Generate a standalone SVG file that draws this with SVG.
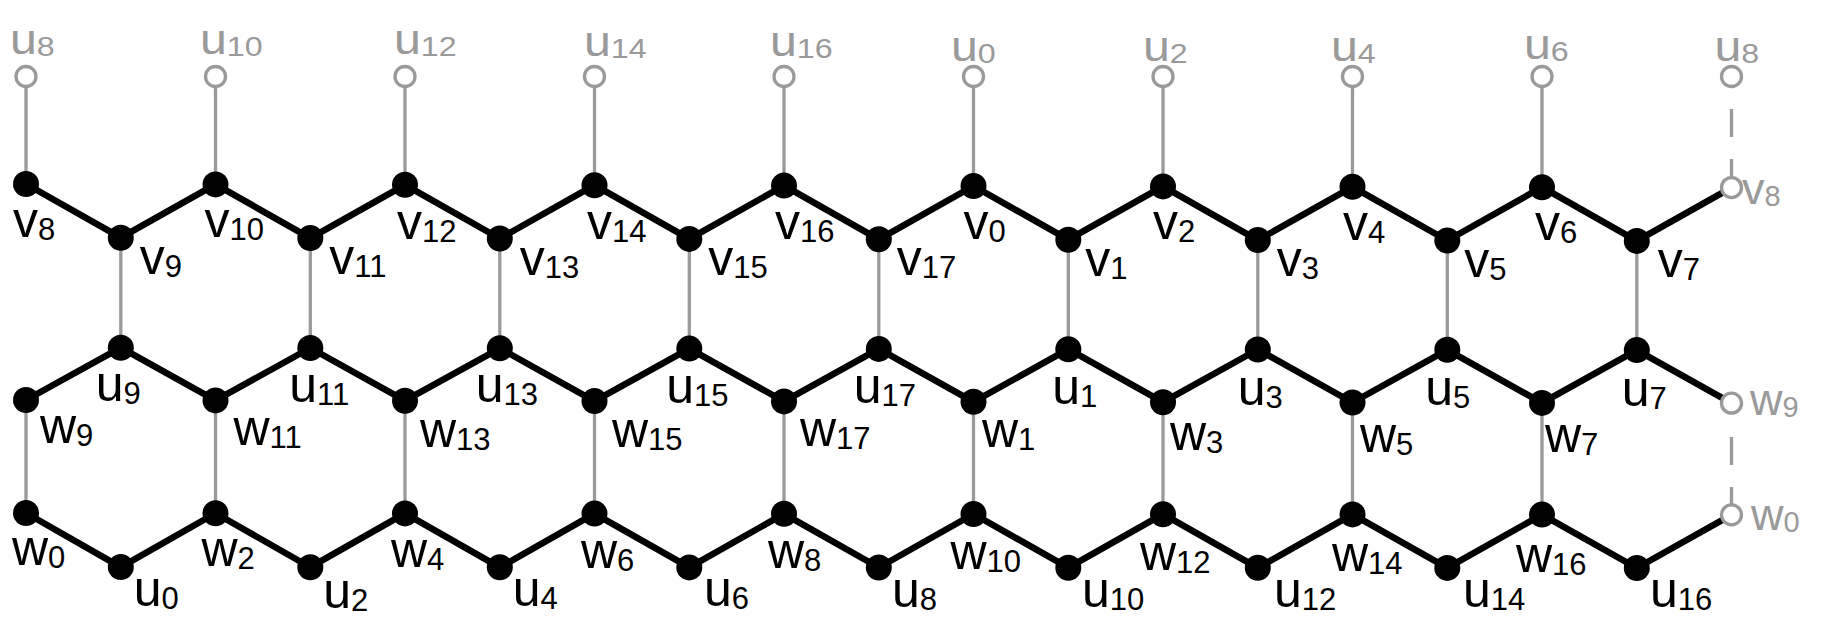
<svg xmlns="http://www.w3.org/2000/svg" width="1844" height="628" viewBox="0 0 1844 628">
<style>
.e{stroke:#000;stroke-width:6.5;stroke-linecap:butt;fill:none}
.g{stroke:#9a9a9a;stroke-width:3.3;fill:none}
.gd{stroke:#9a9a9a;stroke-width:3.3;fill:none;stroke-dasharray:28 22}
.n{fill:#000}
.o{fill:#fff;stroke:#9a9a9a;stroke-width:3.3}
.t{font-family:"Liberation Sans",Arial,sans-serif;font-size:50px;fill:#000}
.tg{font-family:"Liberation Sans",Arial,sans-serif;font-size:42px;fill:#9a9a9a}
.tr{font-family:"Liberation Sans",Arial,sans-serif;font-size:45px;fill:#9a9a9a}
.t .s{font-size:31px}
.tg .s{font-size:28px}
.tr .s{font-size:29px}
</style>
<rect width="1844" height="628" fill="#fff"/>
<g id="connectors">
<g id="gray-edges">
<line class="g" x1="26" y1="76.5" x2="26" y2="184"/>
<line class="g" x1="215.5" y1="76.5" x2="215.5" y2="184.4"/>
<line class="g" x1="405" y1="76.5" x2="405" y2="184.8"/>
<line class="g" x1="594.5" y1="76.5" x2="594.5" y2="185.2"/>
<line class="g" x1="784" y1="76.5" x2="784" y2="185.6"/>
<line class="g" x1="973.5" y1="76.5" x2="973.5" y2="186"/>
<line class="g" x1="1163" y1="76.5" x2="1163" y2="186.4"/>
<line class="g" x1="1352.5" y1="76.5" x2="1352.5" y2="186.8"/>
<line class="g" x1="1542" y1="76.5" x2="1542" y2="187.2"/>
<line class="gd" x1="1731.5" y1="109" x2="1731.5" y2="187.6"/>
<line class="g" x1="120.8" y1="237.7" x2="120.8" y2="347.7"/>
<line class="g" x1="310.3" y1="238.1" x2="310.3" y2="348"/>
<line class="g" x1="499.8" y1="238.5" x2="499.8" y2="348.3"/>
<line class="g" x1="689.3" y1="238.9" x2="689.3" y2="348.6"/>
<line class="g" x1="878.8" y1="239.3" x2="878.8" y2="348.9"/>
<line class="g" x1="1068.3" y1="239.7" x2="1068.3" y2="349.2"/>
<line class="g" x1="1257.8" y1="240.1" x2="1257.8" y2="349.5"/>
<line class="g" x1="1447.3" y1="240.5" x2="1447.3" y2="349.8"/>
<line class="g" x1="1636.8" y1="240.9" x2="1636.8" y2="350.1"/>
<line class="g" x1="26" y1="400" x2="26" y2="513"/>
<line class="g" x1="215.5" y1="400.4" x2="215.5" y2="513.2"/>
<line class="g" x1="405" y1="400.7" x2="405" y2="513.4"/>
<line class="g" x1="594.5" y1="401.1" x2="594.5" y2="513.6"/>
<line class="g" x1="784" y1="401.4" x2="784" y2="513.8"/>
<line class="g" x1="973.5" y1="401.8" x2="973.5" y2="514"/>
<line class="g" x1="1163" y1="402.2" x2="1163" y2="514.2"/>
<line class="g" x1="1352.5" y1="402.5" x2="1352.5" y2="514.4"/>
<line class="g" x1="1542" y1="402.9" x2="1542" y2="514.6"/>
<line class="gd" x1="1731.5" y1="437" x2="1731.5" y2="514.8"/>
</g>
<g id="black-edges">
<line class="e" x1="26" y1="184" x2="120.8" y2="237.7"/>
<line class="e" x1="120.8" y1="237.7" x2="215.5" y2="184.4"/>
<line class="e" x1="215.5" y1="184.4" x2="310.3" y2="238.1"/>
<line class="e" x1="310.3" y1="238.1" x2="405" y2="184.8"/>
<line class="e" x1="405" y1="184.8" x2="499.8" y2="238.5"/>
<line class="e" x1="499.8" y1="238.5" x2="594.5" y2="185.2"/>
<line class="e" x1="594.5" y1="185.2" x2="689.3" y2="238.9"/>
<line class="e" x1="689.3" y1="238.9" x2="784" y2="185.6"/>
<line class="e" x1="784" y1="185.6" x2="878.8" y2="239.3"/>
<line class="e" x1="878.8" y1="239.3" x2="973.5" y2="186"/>
<line class="e" x1="973.5" y1="186" x2="1068.3" y2="239.7"/>
<line class="e" x1="1068.3" y1="239.7" x2="1163" y2="186.4"/>
<line class="e" x1="1163" y1="186.4" x2="1257.8" y2="240.1"/>
<line class="e" x1="1257.8" y1="240.1" x2="1352.5" y2="186.8"/>
<line class="e" x1="1352.5" y1="186.8" x2="1447.3" y2="240.5"/>
<line class="e" x1="1447.3" y1="240.5" x2="1542" y2="187.2"/>
<line class="e" x1="1542" y1="187.2" x2="1636.8" y2="240.9"/>
<line class="e" x1="1636.8" y1="240.9" x2="1731.5" y2="187.6"/>
<line class="e" x1="26" y1="400" x2="120.8" y2="347.7"/>
<line class="e" x1="120.8" y1="347.7" x2="215.5" y2="400.4"/>
<line class="e" x1="215.5" y1="400.4" x2="310.3" y2="348"/>
<line class="e" x1="310.3" y1="348" x2="405" y2="400.7"/>
<line class="e" x1="405" y1="400.7" x2="499.8" y2="348.3"/>
<line class="e" x1="499.8" y1="348.3" x2="594.5" y2="401.1"/>
<line class="e" x1="594.5" y1="401.1" x2="689.3" y2="348.6"/>
<line class="e" x1="689.3" y1="348.6" x2="784" y2="401.4"/>
<line class="e" x1="784" y1="401.4" x2="878.8" y2="348.9"/>
<line class="e" x1="878.8" y1="348.9" x2="973.5" y2="401.8"/>
<line class="e" x1="973.5" y1="401.8" x2="1068.3" y2="349.2"/>
<line class="e" x1="1068.3" y1="349.2" x2="1163" y2="402.2"/>
<line class="e" x1="1163" y1="402.2" x2="1257.8" y2="349.5"/>
<line class="e" x1="1257.8" y1="349.5" x2="1352.5" y2="402.5"/>
<line class="e" x1="1352.5" y1="402.5" x2="1447.3" y2="349.8"/>
<line class="e" x1="1447.3" y1="349.8" x2="1542" y2="402.9"/>
<line class="e" x1="1542" y1="402.9" x2="1636.8" y2="350.1"/>
<line class="e" x1="1636.8" y1="350.1" x2="1731.5" y2="403.2"/>
<line class="e" x1="26" y1="513" x2="120.8" y2="567.1"/>
<line class="e" x1="120.8" y1="567.1" x2="215.5" y2="513.2"/>
<line class="e" x1="215.5" y1="513.2" x2="310.3" y2="567.2"/>
<line class="e" x1="310.3" y1="567.2" x2="405" y2="513.4"/>
<line class="e" x1="405" y1="513.4" x2="499.8" y2="567.3"/>
<line class="e" x1="499.8" y1="567.3" x2="594.5" y2="513.6"/>
<line class="e" x1="594.5" y1="513.6" x2="689.3" y2="567.4"/>
<line class="e" x1="689.3" y1="567.4" x2="784" y2="513.8"/>
<line class="e" x1="784" y1="513.8" x2="878.8" y2="567.5"/>
<line class="e" x1="878.8" y1="567.5" x2="973.5" y2="514"/>
<line class="e" x1="973.5" y1="514" x2="1068.3" y2="567.7"/>
<line class="e" x1="1068.3" y1="567.7" x2="1163" y2="514.2"/>
<line class="e" x1="1163" y1="514.2" x2="1257.8" y2="567.8"/>
<line class="e" x1="1257.8" y1="567.8" x2="1352.5" y2="514.4"/>
<line class="e" x1="1352.5" y1="514.4" x2="1447.3" y2="567.9"/>
<line class="e" x1="1447.3" y1="567.9" x2="1542" y2="514.6"/>
<line class="e" x1="1542" y1="514.6" x2="1636.8" y2="568"/>
<line class="e" x1="1636.8" y1="568" x2="1731.5" y2="514.8"/>
</g>
</g>
<g id="nodes-top-u">
<g id="tu8a"><circle class="o" cx="26" cy="76.5" r="10"/><text class="tg" transform="translate(10,54) scale(1.15,1)">u<tspan class="s" dy="2">8</tspan></text></g>
<g id="tu10"><circle class="o" cx="215.5" cy="76.5" r="10"/><text class="tg" transform="translate(200,54) scale(1.15,1)">u<tspan class="s" dy="2">10</tspan></text></g>
<g id="tu12"><circle class="o" cx="405" cy="76.5" r="10"/><text class="tg" transform="translate(394,54) scale(1.15,1)">u<tspan class="s" dy="2">12</tspan></text></g>
<g id="tu14"><circle class="o" cx="594.5" cy="76.5" r="10"/><text class="tg" transform="translate(584,56) scale(1.15,1)">u<tspan class="s" dy="2">14</tspan></text></g>
<g id="tu16"><circle class="o" cx="784" cy="76.5" r="10"/><text class="tg" transform="translate(770,56) scale(1.15,1)">u<tspan class="s" dy="2">16</tspan></text></g>
<g id="tu0"><circle class="o" cx="973.5" cy="76.5" r="10"/><text class="tg" transform="translate(951,61) scale(1.15,1)">u<tspan class="s" dy="2">0</tspan></text></g>
<g id="tu2"><circle class="o" cx="1163" cy="76.5" r="10"/><text class="tg" transform="translate(1143,61) scale(1.15,1)">u<tspan class="s" dy="2">2</tspan></text></g>
<g id="tu4"><circle class="o" cx="1352.5" cy="76.5" r="10"/><text class="tg" transform="translate(1331,61) scale(1.15,1)">u<tspan class="s" dy="2">4</tspan></text></g>
<g id="tu6"><circle class="o" cx="1542" cy="76.5" r="10"/><text class="tg" transform="translate(1524,59) scale(1.15,1)">u<tspan class="s" dy="2">6</tspan></text></g>
<g id="tu8b"><circle class="o" cx="1731.5" cy="76.5" r="10"/><text class="tg" transform="translate(1714.5,61) scale(1.15,1)">u<tspan class="s" dy="2">8</tspan></text></g>
</g>
<g id="nodes-v">
<g id="v8a"><circle class="n" cx="26" cy="184" r="13"/><text class="t" x="13" y="237">v<tspan class="s" dy="3">8</tspan></text></g>
<g id="v9"><circle class="n" cx="120.8" cy="237.7" r="13"/><text class="t" x="139.8" y="273.7">v<tspan class="s" dy="3">9</tspan></text></g>
<g id="v10"><circle class="n" cx="215.5" cy="184.4" r="13"/><text class="t" x="204.5" y="237.4">v<tspan class="s" dy="3">10</tspan></text></g>
<g id="v11"><circle class="n" cx="310.3" cy="238.1" r="13"/><text class="t" x="329.3" y="274.1">v<tspan class="s" dy="3">11</tspan></text></g>
<g id="v12"><circle class="n" cx="405" cy="184.8" r="13"/><text class="t" x="397" y="238.5">v<tspan class="s" dy="3">12</tspan></text></g>
<g id="v13"><circle class="n" cx="499.8" cy="238.5" r="13"/><text class="t" x="519.8" y="274.5">v<tspan class="s" dy="3">13</tspan></text></g>
<g id="v14"><circle class="n" cx="594.5" cy="185.2" r="13"/><text class="t" x="587" y="239">v<tspan class="s" dy="3">14</tspan></text></g>
<g id="v15"><circle class="n" cx="689.3" cy="238.9" r="13"/><text class="t" x="708.3" y="274.9">v<tspan class="s" dy="3">15</tspan></text></g>
<g id="v16"><circle class="n" cx="784" cy="185.6" r="13"/><text class="t" x="775" y="238.6">v<tspan class="s" dy="3">16</tspan></text></g>
<g id="v17"><circle class="n" cx="878.8" cy="239.3" r="13"/><text class="t" x="896.8" y="275.3">v<tspan class="s" dy="3">17</tspan></text></g>
<g id="v0"><circle class="n" cx="973.5" cy="186" r="13"/><text class="t" x="963.5" y="239">v<tspan class="s" dy="3">0</tspan></text></g>
<g id="v1"><circle class="n" cx="1068.3" cy="239.7" r="13"/><text class="t" x="1085.3" y="275.7">v<tspan class="s" dy="3">1</tspan></text></g>
<g id="v2"><circle class="n" cx="1163" cy="186.4" r="13"/><text class="t" x="1153" y="239.4">v<tspan class="s" dy="3">2</tspan></text></g>
<g id="v3"><circle class="n" cx="1257.8" cy="240.1" r="13"/><text class="t" x="1276.8" y="276.1">v<tspan class="s" dy="3">3</tspan></text></g>
<g id="v4"><circle class="n" cx="1352.5" cy="186.8" r="13"/><text class="t" x="1343" y="239.8">v<tspan class="s" dy="3">4</tspan></text></g>
<g id="v5"><circle class="n" cx="1447.3" cy="240.5" r="13"/><text class="t" x="1464.3" y="276.5">v<tspan class="s" dy="3">5</tspan></text></g>
<g id="v6"><circle class="n" cx="1542" cy="187.2" r="13"/><text class="t" x="1535" y="240.2">v<tspan class="s" dy="3">6</tspan></text></g>
<g id="v7"><circle class="n" cx="1636.8" cy="240.9" r="13"/><text class="t" x="1657.8" y="276.9">v<tspan class="s" dy="3">7</tspan></text></g>
<g id="v8b"><circle class="o" cx="1731.5" cy="187.6" r="10"/><text class="tr" x="1742" y="204">v<tspan class="s" dy="2">8</tspan></text></g>
</g>
<g id="nodes-middle">
<g id="w9a"><circle class="n" cx="26" cy="400" r="13"/><text class="t" x="40" y="443">w<tspan class="s" dy="3">9</tspan></text></g>
<g id="u9"><circle class="n" cx="120.8" cy="347.7" r="13"/><text class="t" x="95.8" y="400.9">u<tspan class="s" dy="3">9</tspan></text></g>
<g id="w11"><circle class="n" cx="215.5" cy="400.4" r="13"/><text class="t" x="233.5" y="445">w<tspan class="s" dy="3">11</tspan></text></g>
<g id="u11"><circle class="n" cx="310.3" cy="348" r="13"/><text class="t" x="289.3" y="401.5">u<tspan class="s" dy="3">11</tspan></text></g>
<g id="w13"><circle class="n" cx="405" cy="400.7" r="13"/><text class="t" x="420" y="447">w<tspan class="s" dy="3">13</tspan></text></g>
<g id="u13"><circle class="n" cx="499.8" cy="348.3" r="13"/><text class="t" x="475.8" y="402">u<tspan class="s" dy="3">13</tspan></text></g>
<g id="w15"><circle class="n" cx="594.5" cy="401.1" r="13"/><text class="t" x="612" y="447">w<tspan class="s" dy="3">15</tspan></text></g>
<g id="u15"><circle class="n" cx="689.3" cy="348.6" r="13"/><text class="t" x="666.3" y="402.7">u<tspan class="s" dy="3">15</tspan></text></g>
<g id="w17"><circle class="n" cx="784" cy="401.4" r="13"/><text class="t" x="800" y="446">w<tspan class="s" dy="3">17</tspan></text></g>
<g id="u17"><circle class="n" cx="878.8" cy="348.9" r="13"/><text class="t" x="853.8" y="403.3">u<tspan class="s" dy="3">17</tspan></text></g>
<g id="w1"><circle class="n" cx="973.5" cy="401.8" r="13"/><text class="t" x="982" y="447">w<tspan class="s" dy="3">1</tspan></text></g>
<g id="u1"><circle class="n" cx="1068.3" cy="349.2" r="13"/><text class="t" x="1052.3" y="403.9">u<tspan class="s" dy="3">1</tspan></text></g>
<g id="w3"><circle class="n" cx="1163" cy="402.2" r="13"/><text class="t" x="1170" y="450">w<tspan class="s" dy="3">3</tspan></text></g>
<g id="u3"><circle class="n" cx="1257.8" cy="349.5" r="13"/><text class="t" x="1237.8" y="404.5">u<tspan class="s" dy="3">3</tspan></text></g>
<g id="w5"><circle class="n" cx="1352.5" cy="402.5" r="13"/><text class="t" x="1360" y="452">w<tspan class="s" dy="3">5</tspan></text></g>
<g id="u5"><circle class="n" cx="1447.3" cy="349.8" r="13"/><text class="t" x="1425.3" y="405">u<tspan class="s" dy="3">5</tspan></text></g>
<g id="w7"><circle class="n" cx="1542" cy="402.9" r="13"/><text class="t" x="1545" y="452">w<tspan class="s" dy="3">7</tspan></text></g>
<g id="u7"><circle class="n" cx="1636.8" cy="350.1" r="13"/><text class="t" x="1621.8" y="405.7">u<tspan class="s" dy="3">7</tspan></text></g>
<g id="w9b"><circle class="o" cx="1731.5" cy="403.2" r="10"/><text class="tr" x="1750" y="415">w<tspan class="s" dy="2">9</tspan></text></g>
</g>
<g id="nodes-bottom">
<g id="w0a"><circle class="n" cx="26" cy="513" r="13"/><text class="t" x="12" y="565">w<tspan class="s" dy="3">0</tspan></text></g>
<g id="u0"><circle class="n" cx="120.8" cy="567.1" r="13"/><text class="t" x="133.8" y="606.1">u<tspan class="s" dy="3">0</tspan></text></g>
<g id="w2"><circle class="n" cx="215.5" cy="513.2" r="13"/><text class="t" x="201.5" y="565.9">w<tspan class="s" dy="3">2</tspan></text></g>
<g id="u2"><circle class="n" cx="310.3" cy="567.2" r="13"/><text class="t" x="323.3" y="607.5">u<tspan class="s" dy="3">2</tspan></text></g>
<g id="w4"><circle class="n" cx="405" cy="513.4" r="13"/><text class="t" x="391" y="566.7">w<tspan class="s" dy="3">4</tspan></text></g>
<g id="u4"><circle class="n" cx="499.8" cy="567.3" r="13"/><text class="t" x="512.8" y="606.3">u<tspan class="s" dy="3">4</tspan></text></g>
<g id="w6"><circle class="n" cx="594.5" cy="513.6" r="13"/><text class="t" x="581" y="567.6">w<tspan class="s" dy="3">6</tspan></text></g>
<g id="u6"><circle class="n" cx="689.3" cy="567.4" r="13"/><text class="t" x="704" y="606.4">u<tspan class="s" dy="3">6</tspan></text></g>
<g id="w8"><circle class="n" cx="784" cy="513.8" r="13"/><text class="t" x="768" y="568.4">w<tspan class="s" dy="3">8</tspan></text></g>
<g id="u8"><circle class="n" cx="878.8" cy="567.5" r="13"/><text class="t" x="892" y="606.5">u<tspan class="s" dy="3">8</tspan></text></g>
<g id="w10"><circle class="n" cx="973.5" cy="514" r="13"/><text class="t" x="950.5" y="569.3">w<tspan class="s" dy="3">10</tspan></text></g>
<g id="u10"><circle class="n" cx="1068.3" cy="567.7" r="13"/><text class="t" x="1082" y="606.7">u<tspan class="s" dy="3">10</tspan></text></g>
<g id="w12"><circle class="n" cx="1163" cy="514.2" r="13"/><text class="t" x="1140" y="570.2">w<tspan class="s" dy="3">12</tspan></text></g>
<g id="u12"><circle class="n" cx="1257.8" cy="567.8" r="13"/><text class="t" x="1274" y="606.8">u<tspan class="s" dy="3">12</tspan></text></g>
<g id="w14"><circle class="n" cx="1352.5" cy="514.4" r="13"/><text class="t" x="1332" y="571">w<tspan class="s" dy="3">14</tspan></text></g>
<g id="u14"><circle class="n" cx="1447.3" cy="567.9" r="13"/><text class="t" x="1463" y="606.9">u<tspan class="s" dy="3">14</tspan></text></g>
<g id="w16"><circle class="n" cx="1542" cy="514.6" r="13"/><text class="t" x="1516" y="571.9">w<tspan class="s" dy="3">16</tspan></text></g>
<g id="u16"><circle class="n" cx="1636.8" cy="568" r="13"/><text class="t" x="1650" y="607">u<tspan class="s" dy="3">16</tspan></text></g>
<g id="w0b"><circle class="o" cx="1731.5" cy="514.8" r="10"/><text class="tr" x="1751" y="530">w<tspan class="s" dy="2">0</tspan></text></g>
</g>
</svg>
